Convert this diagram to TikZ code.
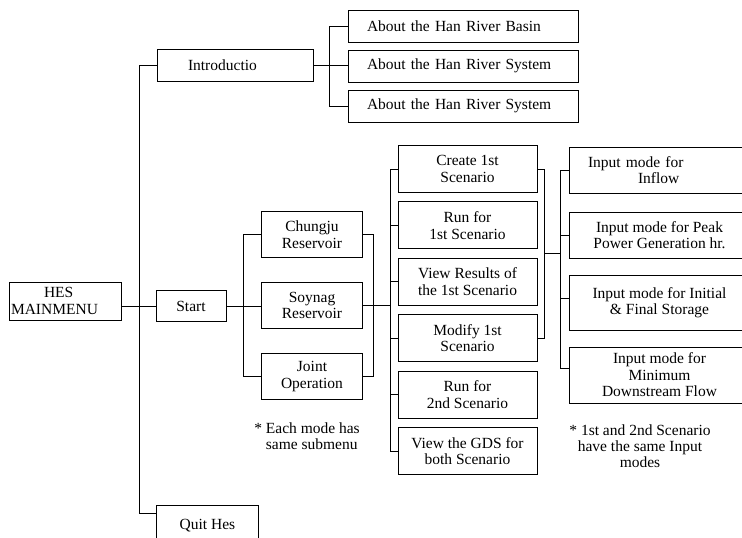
\documentclass[tikz,border=0pt]{standalone}
\usepackage{fontspec}
\setmainfont{Liberation Serif}
\usetikzlibrary{calc}
\begin{document}
\begin{tikzpicture}[x=1pt,y=-1pt,line width=0.9pt,
	box/.style={draw,align=center,inner sep=0pt,font=\fontsize{15.5}{16.5}\selectfont},
	aboutbox/.style={box,align=left,text width=192pt,inner xsep=19pt,minimum height=32pt},
	resbox/.style={box,minimum width=101pt,minimum height=46pt},
	scenbox/.style={box,minimum width=139pt,minimum height=47pt},
	inbox/.style={box,minimum width=181pt},
	note/.style={inner sep=0pt,font=\fontsize{15.5}{16}\selectfont}]
	\useasboundingbox (0,0) rectangle (742,538);

	\node[box,align=left,text width=108pt,inner xsep=2pt,minimum height=38pt] (main) at (65,301) {\hspace*{33pt}HES\\MAINMENU};
	\node[box,align=left,text width=94pt,inner xsep=31pt,minimum height=32pt] (intro) at (235,65) {Introductio};
	\node[box,minimum width=70pt,minimum height=31pt] (start) at (191,306) {Start};
	\node[box,minimum width=102pt,minimum height=40pt,anchor=north west] (quit) at (156,505) {Quit Hes};

	\node[aboutbox] (about1) at (463,26) {About the Han River Basin};
	\node[aboutbox] (about2) at (463,66) {About the Han River System};
	\node[aboutbox] (about3) at (463,106) {About the Han River System};

	\node[resbox] (chungju) at (312,234.5) {Chungju\\Reservoir};
	\node[resbox] (soynag) at (312,305.5) {Soynag\\Reservoir};
	\node[resbox] (joint) at (312,376.5) {Joint\\Operation};

	\node[scenbox] (sc1) at (467.5,169) {Create 1st\\Scenario};
	\node[scenbox] (sc2) at (467.5,225.4) {Run for\\1st Scenario};
	\node[scenbox] (sc3) at (467.5,281.8) {View Results of\\the 1st Scenario};
	\node[scenbox] (sc4) at (467.5,338.2) {Modify 1st\\Scenario};
	\node[scenbox] (sc5) at (467.5,394.6) {Run for\\2nd Scenario};
	\node[scenbox] (sc6) at (467.5,451) {View the GDS for\\both Scenario};

	\node[inbox,align=left,text width=143pt,inner xsep=19pt,minimum height=46pt] (in1) at (659.5,170) {Input mode for\\\hspace*{50pt}Inflow};
	\node[inbox,minimum height=46pt] (in2) at (659.5,235) {Input mode for Peak\\Power Generation hr.};
	\node[inbox,minimum height=55pt] (in3) at (659.5,302.5) {Input mode for Initial\\\& Final Storage};
	\node[inbox,minimum height=56pt] (in4) at (659.5,375) {Input mode for\\Minimum\\Downstream Flow};

	\node[note,align=left] (note1) at (307,436.5) {* Each mode has\\\hphantom{*~}same submenu};
	\node[note,align=center] (note2) at (640,446) {* 1st and 2nd Scenario\\have the same Input\\modes};

	\draw (intro.west) -- ++(-17,0) |- ([yshift=-8pt]quit.north west);
	\draw (main.east |- start.west) -- (start.west);

	\draw (about1.west) -- ++(-18,0) |- (about3.west);
	\draw (intro.east) -- (intro.east -| about2.west);

	\draw (chungju.west) -- ++(-18,0) |- (joint.west);
	\draw (start.east) -- (start.east -| soynag.west);
	\draw (chungju.east) -- ++(10,0) |- (joint.east);

	\draw (sc1.west) -- ++(-7,0) coordinate (scbus) |- (sc6.west);
	\foreach \i in {2,...,5}
		\draw (sc\i.west) -- (sc\i.west -| scbus);
	\draw (soynag.east) -- (soynag.east -| scbus);

	\draw (sc1.east) -- ++(7,0) coordinate (scout) |- (sc4.east);
	\coordinate (scmid) at ($(scout)!0.5!(scout |- sc4.east)$);

	\draw (in1.west) -- ++(-8,0) coordinate (inbus) |- ([yshift=7pt]in4.west);
	\draw (in2.west) -- (in2.west -| inbus);
	\draw ([yshift=4.5pt]in3.west) -- ([yshift=4.5pt]in3.west -| inbus);
	\draw (scmid) -- (scmid -| inbus);
\end{tikzpicture}
\end{document}
